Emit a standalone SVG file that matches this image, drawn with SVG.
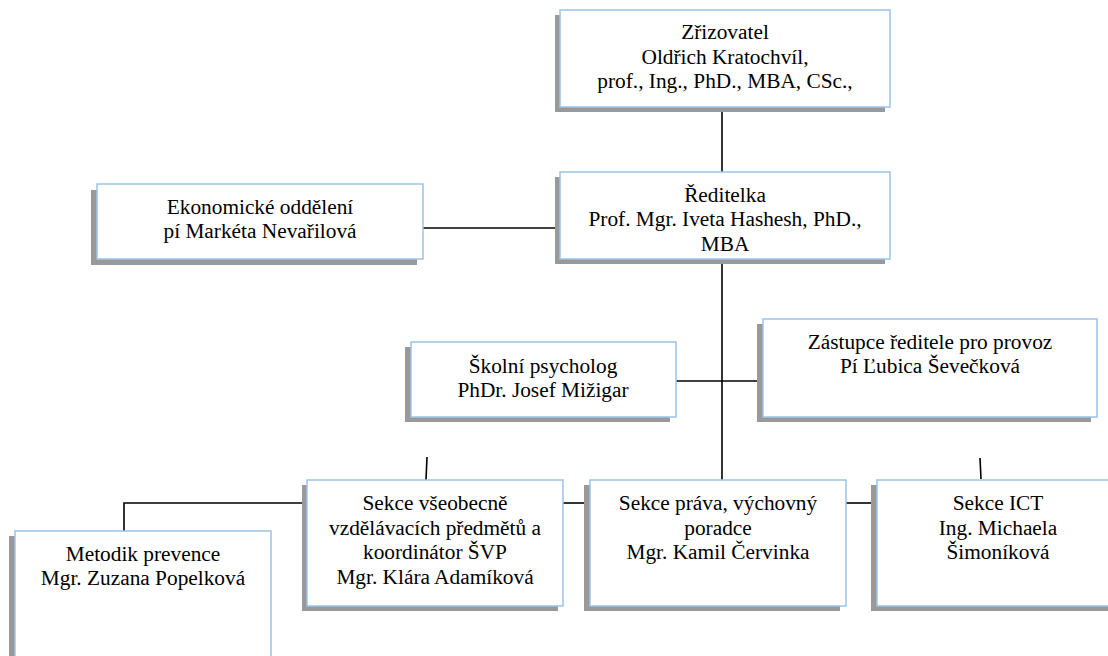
<svg xmlns="http://www.w3.org/2000/svg" width="1108" height="656" viewBox="0 0 1108 656">
<style>
.sh{fill:#999999}
.bx{fill:#ffffff;stroke:#9dc3e6;stroke-width:1.5}
.t{font-family:"Liberation Serif","Times New Roman",serif;font-size:21.33px;fill:#000;text-anchor:middle}
.c{stroke:#000;stroke-width:1.6;fill:none}
</style>
<defs>
<clipPath id="clipR"><rect x="560" y="172" width="330" height="79"/></clipPath>
</defs>
<rect width="1108" height="656" fill="#fff"/>
<g id="connectors">
<line class="c" x1="722" y1="107" x2="722" y2="172"/>
<line class="c" x1="423" y1="228" x2="560" y2="228"/>
<line class="c" x1="722" y1="259" x2="722" y2="480"/>
<line class="c" x1="676" y1="381" x2="763" y2="381"/>
<polyline class="c" points="124,531 124,503 307,503"/>
<line class="c" x1="563" y1="503" x2="590" y2="503"/>
<line class="c" x1="846" y1="503" x2="877" y2="503"/>
<line class="c" x1="427" y1="457" x2="426" y2="480"/>
<line class="c" x1="980" y1="458" x2="981" y2="479"/>
</g>
<g id="zrizovatel">
<rect class="sh" x="555" y="15" width="330" height="97"/>
<rect class="bx" x="560" y="10" width="330" height="97"/>
<text class="t" x="725" y="39">Zřizovatel</text>
<text class="t" x="725" y="64">Oldřich Kratochvíl,</text>
<text class="t" x="725" y="88">prof., Ing., PhD., MBA, CSc.,</text>
</g>
<g id="reditelka">
<rect class="sh" x="555" y="177" width="330" height="87"/>
<rect class="bx" x="560" y="172" width="330" height="87"/>
<g clip-path="url(#clipR)">
<text class="t" x="725" y="202">Ředitelka</text>
<text class="t" x="725" y="226">Prof. Mgr. Iveta Hashesh, PhD.,</text>
<text class="t" x="725" y="251">MBA</text>
</g>
</g>
<g id="ekonomicke">
<rect class="sh" x="91" y="190" width="326" height="75"/>
<rect class="bx" x="97" y="184" width="326" height="75"/>
<text class="t" x="260" y="214">Ekonomické oddělení</text>
<text class="t" x="260" y="238">pí Markéta Nevařilová</text>
</g>
<g id="psycholog">
<rect class="sh" x="405" y="347" width="265" height="75"/>
<rect class="bx" x="411" y="342" width="265" height="75"/>
<text class="t" x="543" y="373">Školní psycholog</text>
<text class="t" x="543" y="397">PhDr. Josef Mižigar</text>
</g>
<g id="zastupce">
<rect class="sh" x="757" y="324" width="334" height="98"/>
<rect class="bx" x="763" y="319" width="334" height="98"/>
<text class="t" x="930" y="349">Zástupce ředitele pro provoz</text>
<text class="t" x="930" y="373">Pí Ľubica Ševečková</text>
</g>
<g id="metodik">
<rect class="sh" x="9" y="536" width="256" height="140"/>
<rect class="bx" x="15" y="531" width="256" height="140"/>
<text class="t" x="143" y="561">Metodik prevence</text>
<text class="t" x="143" y="585">Mgr. Zuzana Popelková</text>
</g>
<g id="vseobecne">
<rect class="sh" x="302" y="485" width="256" height="126"/>
<rect class="bx" x="307" y="480" width="256" height="126"/>
<text class="t" x="435" y="510">Sekce všeobecně</text>
<text class="t" x="435" y="535">vzdělávacích předmětů a</text>
<text class="t" x="435" y="559">koordinátor ŠVP</text>
<text class="t" x="435" y="584">Mgr. Klára Adamíková</text>
</g>
<g id="prava">
<rect class="sh" x="584" y="485" width="256" height="126"/>
<rect class="bx" x="590" y="480" width="256" height="126"/>
<text class="t" x="718" y="510">Sekce práva, výchovný</text>
<text class="t" x="718" y="535">poradce</text>
<text class="t" x="718" y="559">Mgr. Kamil Červinka</text>
</g>
<g id="ict">
<rect class="sh" x="871" y="485" width="250" height="126"/>
<rect class="bx" x="877" y="480" width="250" height="126"/>
<text class="t" x="998" y="510">Sekce ICT</text>
<text class="t" x="998" y="535">Ing. Michaela</text>
<text class="t" x="998" y="559">Šimoníková</text>
</g>
</svg>
